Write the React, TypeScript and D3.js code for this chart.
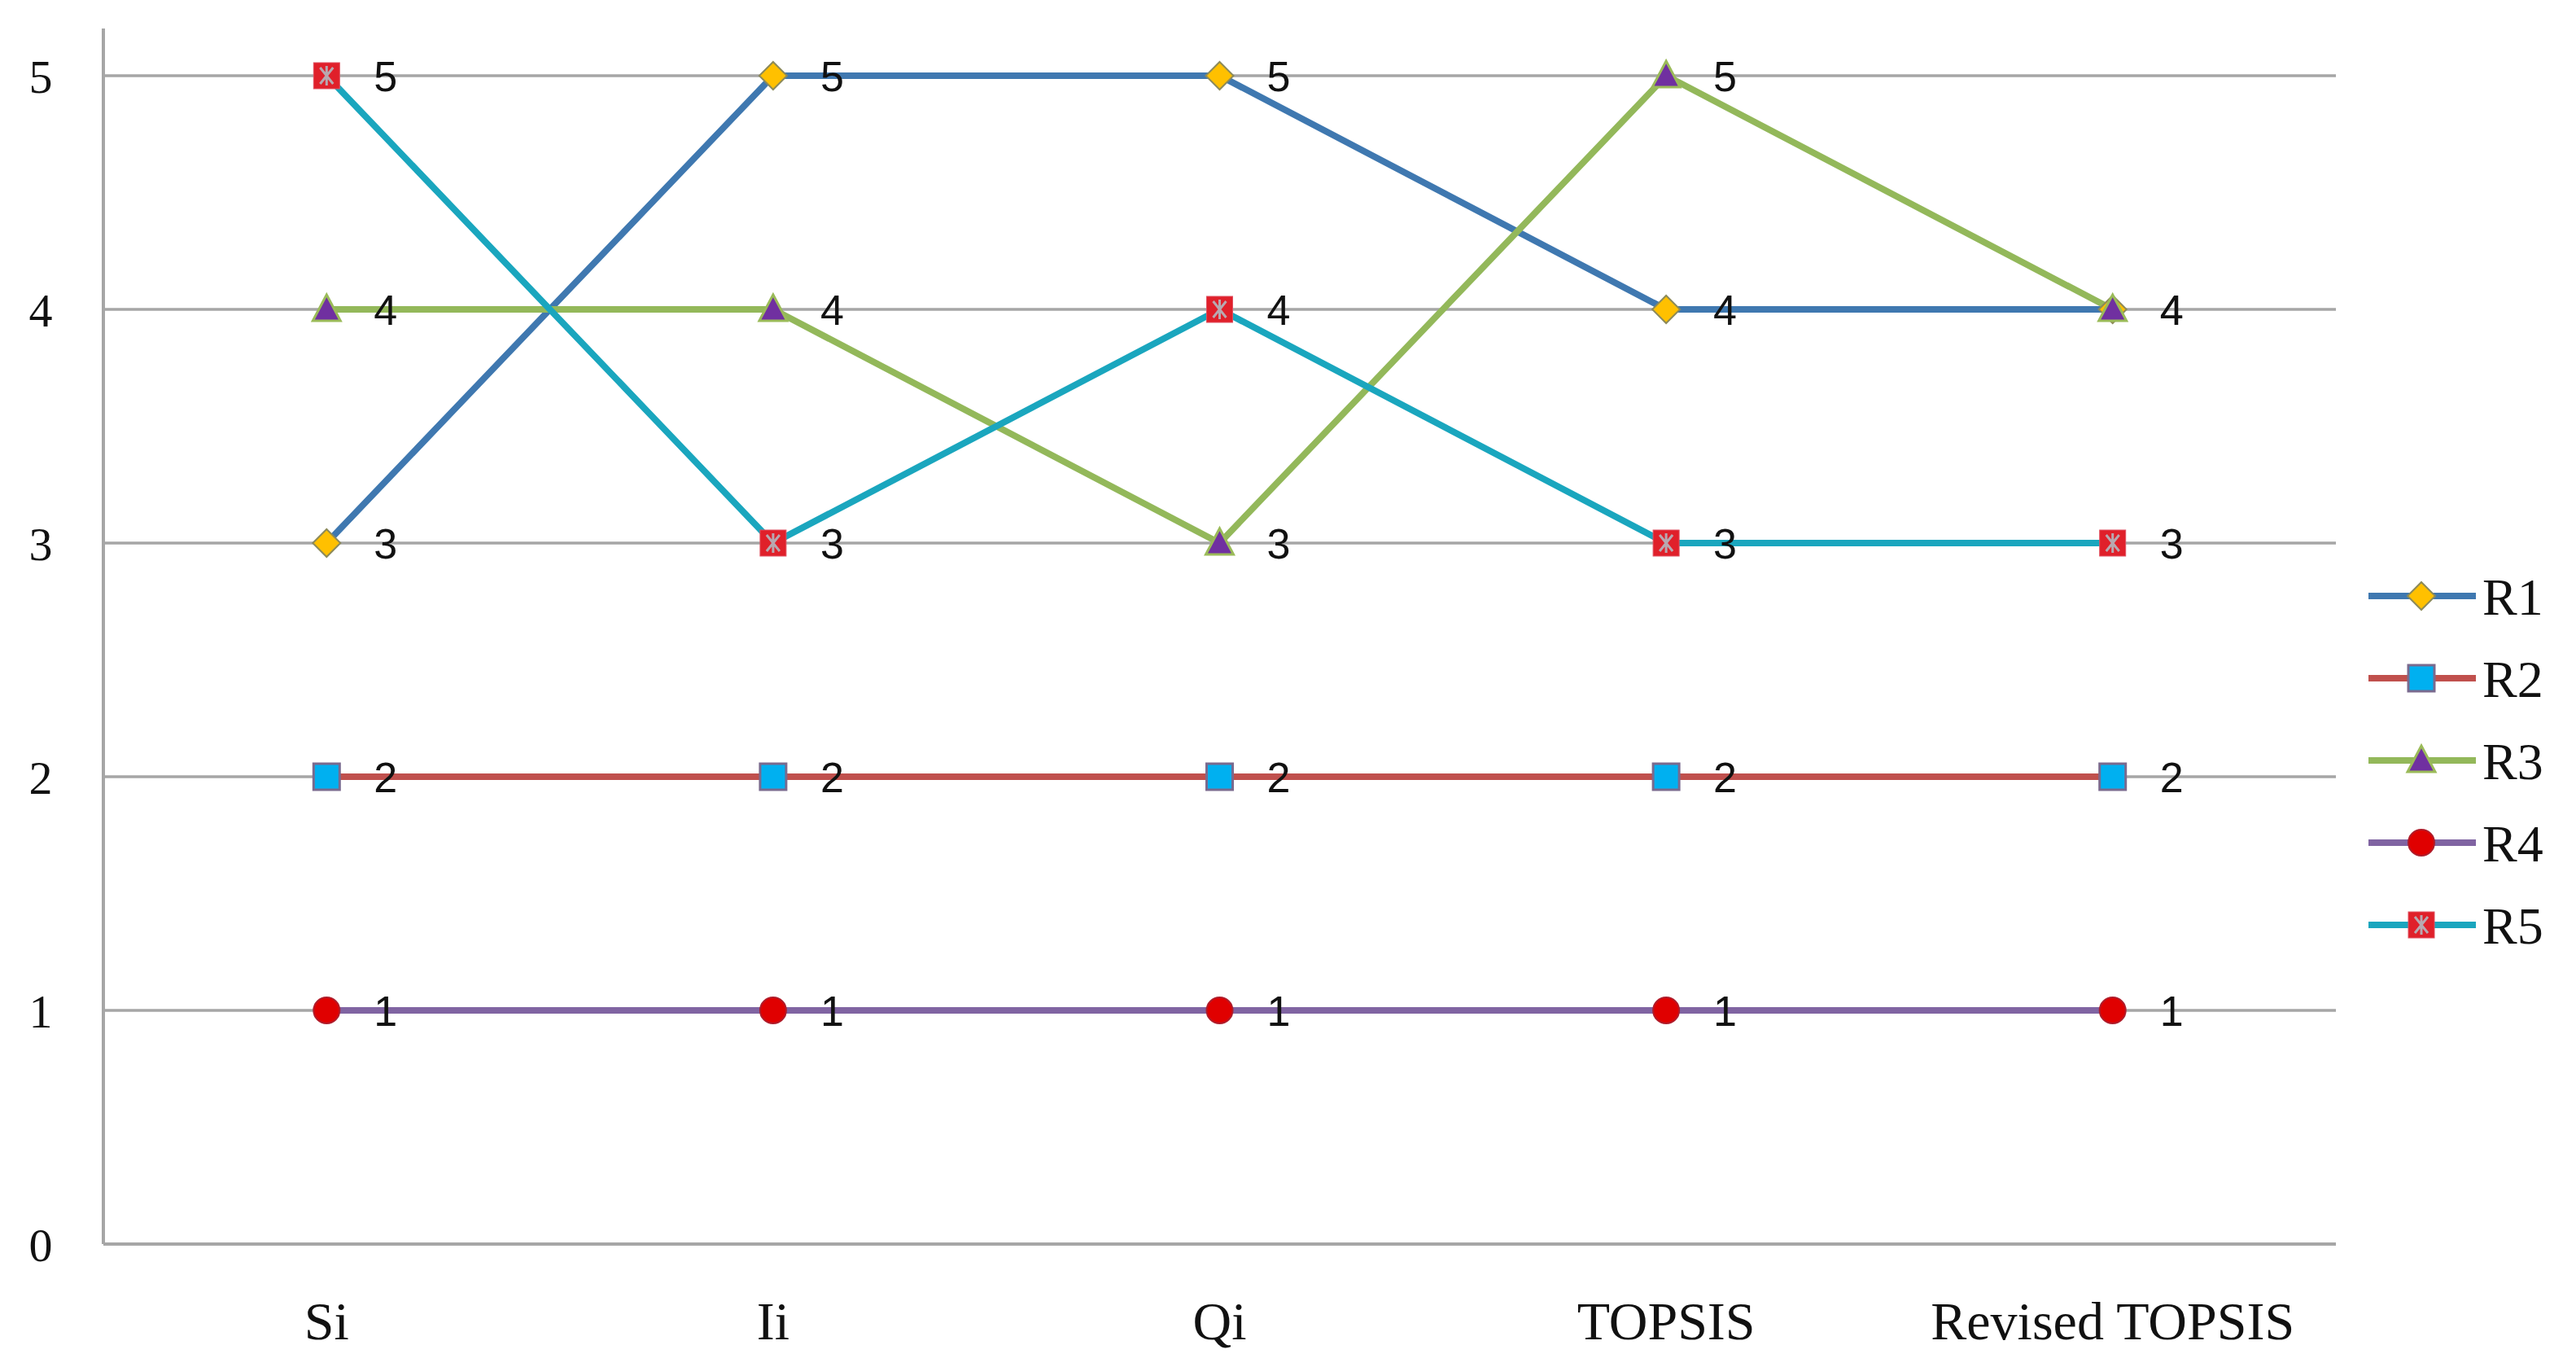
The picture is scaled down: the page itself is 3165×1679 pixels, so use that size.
import React from "react";
import * as d3 from "d3";

const categories = ["Si", "Ii", "Qi", "TOPSIS", "Revised TOPSIS"];
const yTicks = [0, 1, 2, 3, 4, 5];
const seriesNames = ["R1", "R2", "R3", "R4", "R5"];
const r1 = [3, 5, 5, 4, 4];
const r2 = [2, 2, 2, 2, 2];
const r3 = [4, 4, 3, 5, 4];
const r4 = [1, 1, 1, 1, 1];
const r5 = [5, 3, 4, 3, 3];
const seriesValues = [r1, r2, r3, r4, r5];
const lineColors = ["#3f78b0", "#c0504d", "#93b85a", "#8064a2", "#1aa6be"];

const W = 3165;
const H = 1679;
const left = 127;
const right = 2870;
const top = 93;
const bottom = 1528;

function Marker({ kind, x, y }: { kind: number; x: number; y: number }) {
  if (kind === 0) {
    const s = 17;
    return (
      <path
        d={`M${x},${y - s}L${x + s},${y}L${x},${y + s}L${x - s},${y}Z`}
        fill="#ffc000"
        stroke="#8c8a5a"
        strokeWidth={2}
      />
    );
  }
  if (kind === 1) {
    const s = 16;
    return <rect x={x - s} y={y - s} width={2 * s} height={2 * s} fill="#00b0f0" stroke="#7a6a8e" strokeWidth={3} />;
  }
  if (kind === 2) {
    return (
      <path
        d={`M${x},${y - 18}L${x + 17},${y + 14}L${x - 17},${y + 14}Z`}
        fill="#7030a0"
        stroke="#9bbb59"
        strokeWidth={3}
      />
    );
  }
  if (kind === 3) {
    return <circle cx={x} cy={y} r={16} fill="#e00000" stroke="#b01c2a" strokeWidth={2} />;
  }
  const s = 16;
  return (
    <g>
      <rect x={x - s} y={y - s} width={2 * s} height={2 * s} fill="#e0202a" stroke="#e05060" strokeWidth={1} />
      <path
        d={`M${x - 8},${y - 10}L${x + 8},${y + 10}M${x + 8},${y - 10}L${x - 8},${y + 10}M${x},${y - 12}L${x},${y + 12}`}
        stroke="#b8a8b0"
        strokeWidth={3}
      />
    </g>
  );
}

export default function App() {
  const x = d3.scaleBand<string>().domain(categories).range([left, right]);
  const y = d3.scaleLinear().domain([0, 5]).range([bottom, top]);
  const cx = (c: string) => (x(c) as number) + x.bandwidth() / 2;
  const line = d3
    .line<number>()
    .x((_, i) => cx(categories[i]))
    .y((v) => y(v));

  return (
    <svg
      width={W}
      height={H}
      style={{ position: "absolute", left: 0, top: 0, background: "#fff" }}
    >
      {yTicks
        .filter((t) => t > 0)
        .map((t) => (
          <line key={t} x1={left} x2={right} y1={y(t)} y2={y(t)} stroke="#a6a6a6" strokeWidth={3.5} />
        ))}
      <line x1={left} x2={left} y1={35} y2={bottom} stroke="#a6a6a6" strokeWidth={4} />
      <line x1={left} x2={right} y1={bottom} y2={bottom} stroke="#a6a6a6" strokeWidth={4} />
      {yTicks.map((t) => (
        <text
          key={t}
          x={50}
          y={y(t)}
          dy="0.36em"
          textAnchor="middle"
          fontFamily="Liberation Serif"
          fontSize={58}
          fill="#111"
        >
          {t}
        </text>
      ))}
      {categories.map((c) => (
        <text
          key={c}
          x={cx(c)}
          y={1621}
          dy="0.36em"
          textAnchor="middle"
          fontFamily="Liberation Serif"
          fontSize={66}
          fill="#111"
        >
          {c}
        </text>
      ))}
      {seriesValues.map((vals, si) => (
        <path key={si} d={line(vals) || ""} fill="none" stroke={lineColors[si]} strokeWidth={8} strokeLinejoin="round" />
      ))}
      {seriesValues.map((vals, si) =>
        vals.map((v, i) => <Marker key={`${si}-${i}`} kind={si} x={cx(categories[i])} y={y(v)} />)
      )}
      {seriesValues.map((vals, si) =>
        vals.map((v, i) => (
          <text
            key={`l${si}-${i}`}
            x={cx(categories[i]) + 58}
            y={y(v)}
            dy="0.36em"
            fontFamily="Liberation Sans"
            fontSize={52}
            fill="#111"
          >
            {v}
          </text>
        ))
      )}
      {seriesNames.map((n, si) => {
        const ly = 732 + si * 101;
        return (
          <g key={n}>
            <line x1={2910} x2={3042} y1={ly} y2={ly} stroke={lineColors[si]} strokeWidth={8} />
            <Marker kind={si} x={2975} y={ly} />
            <text x={3050} y={ly} dy="0.36em" fontFamily="Liberation Serif" fontSize={64} fill="#111">
              {n}
            </text>
          </g>
        );
      })}
    </svg>
  );
}
